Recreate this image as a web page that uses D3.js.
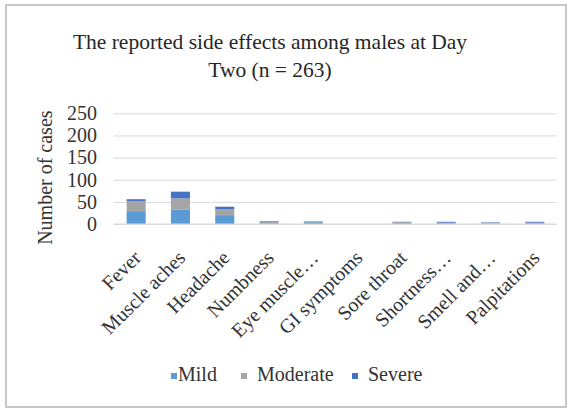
<!DOCTYPE html>
<html>
<head>
<meta charset="utf-8">
<script src="https://cdn.jsdelivr.net/npm/d3@7"></script>
<style>
  html, body { margin: 0; padding: 0; background: #fff; }
  svg { display: block; font-family: "Liberation Serif", "Times New Roman", serif; }
</style>
</head>
<body>
<svg id="chart" width="573" height="410"></svg>
<script>
// Side effects reported by males on day two, split by severity
const categories = ["Fever", "Muscle aches", "Headache", "Numbness", "Eye muscle\u2026",
  "GI symptoms", "Sore throat", "Shortness\u2026", "Smell and\u2026", "Palpitations"];
const mild     = [29, 33, 20, 2, 4, 0, 2, 2, 1, 2];
const moderate = [23, 25, 13, 2, 1, 0, 2, 1, 2, 1];
const severe   = [4, 15, 6, 2, 1, 0, 1, 2, 1, 2];
const seriesNames = ["Mild", "Moderate", "Severe"];
const seriesColors = ["#5b9bd5", "#a5a5a5", "#4472c4"];
const yTicks = [0, 50, 100, 150, 200, 250];
const titleLines = ["The reported side effects among males at Day", "Two (n = 263)"];
const yTitle = "Number of cases";

const svg = d3.select("#chart");
const W = 573, H = 410;
const textColor = "#333";

// outer chart frame
svg.append("rect")
  .attr("x", 6).attr("y", 5).attr("width", W - 13).attr("height", H - 8)
  .attr("fill", "#fff").attr("stroke", "#c8c8c8").attr("stroke-width", 2);

const plot = { left: 114, right: 557, top: 113.3, bottom: 224 };

const x = d3.scaleBand().domain(categories).range([plot.left, plot.right]).paddingInner(0.57).paddingOuter(0.285);
const y = d3.scaleLinear().domain([0, 250]).range([plot.bottom, plot.top]);

// title
svg.append("text")
  .attr("text-anchor", "middle")
  .attr("font-size", 21.5).attr("fill", "#262626")
  .selectAll("tspan").data(titleLines).join("tspan")
  .attr("x", 270).attr("y", (d, i) => 49 + i * 28)
  .text(d => d);

// gridlines and value labels
const yAxis = d3.axisLeft(y).tickValues(yTicks).tickSize(-(plot.right - plot.left)).tickPadding(17);
const gy = svg.append("g").attr("transform", `translate(${plot.left},0)`).call(yAxis);
gy.select(".domain").remove();
gy.selectAll(".tick line").attr("stroke", "#d9d9d9").attr("stroke-width", 1);
gy.selectAll(".tick text")
  .attr("font-family", "Liberation Serif, serif")
  .attr("font-size", 20).attr("fill", textColor);

// stacked bars
const rows = categories.map((c, i) => ({ cat: c, Mild: mild[i], Moderate: moderate[i], Severe: severe[i] }));
const stacked = d3.stack().keys(seriesNames)(rows);
svg.append("g").selectAll("g").data(stacked).join("g")
  .attr("fill", (d, i) => seriesColors[i])
  .selectAll("rect").data(d => d).join("rect")
  .attr("x", d => x(d.data.cat))
  .attr("width", x.bandwidth())
  .attr("y", d => y(d[1]))
  .attr("height", d => y(d[0]) - y(d[1]));

// baseline
svg.append("line")
  .attr("x1", plot.left).attr("x2", plot.right)
  .attr("y1", y(0)).attr("y2", y(0))
  .attr("stroke", "#d9d9d9").attr("stroke-width", 1);

// category labels, rotated
const xAxis = d3.axisBottom(x).tickSize(0).tickPadding(0);
const gx = svg.append("g").attr("transform", `translate(0,${plot.bottom})`).call(xAxis);
gx.select(".domain").remove();
gx.selectAll(".tick text")
  .attr("font-family", "Liberation Serif, serif")
  .attr("font-size", 20).attr("fill", textColor)
  .attr("text-anchor", "end")
  .attr("dy", null).attr("y", null)
  .attr("transform", "translate(6,35) rotate(-45)");

// y axis title
svg.append("text")
  .attr("transform", `translate(52,${(plot.top + plot.bottom) / 2 + 9}) rotate(-90)`)
  .attr("text-anchor", "middle")
  .attr("font-size", 20).attr("fill", textColor)
  .text(yTitle);

// legend
const legendSwatchX = [171, 241, 352];
const legendTextX = [178, 257, 368];
const lg = svg.append("g").selectAll("g").data(seriesNames).join("g");
lg.append("rect")
  .attr("x", (d, i) => legendSwatchX[i]).attr("y", 373)
  .attr("width", 6).attr("height", 6).attr("fill", (d, i) => seriesColors[i]);
lg.append("text")
  .attr("x", (d, i) => legendTextX[i]).attr("y", 381)
  .attr("font-size", 20).attr("fill", textColor).text(d => d);
</script>
</body>
</html>
